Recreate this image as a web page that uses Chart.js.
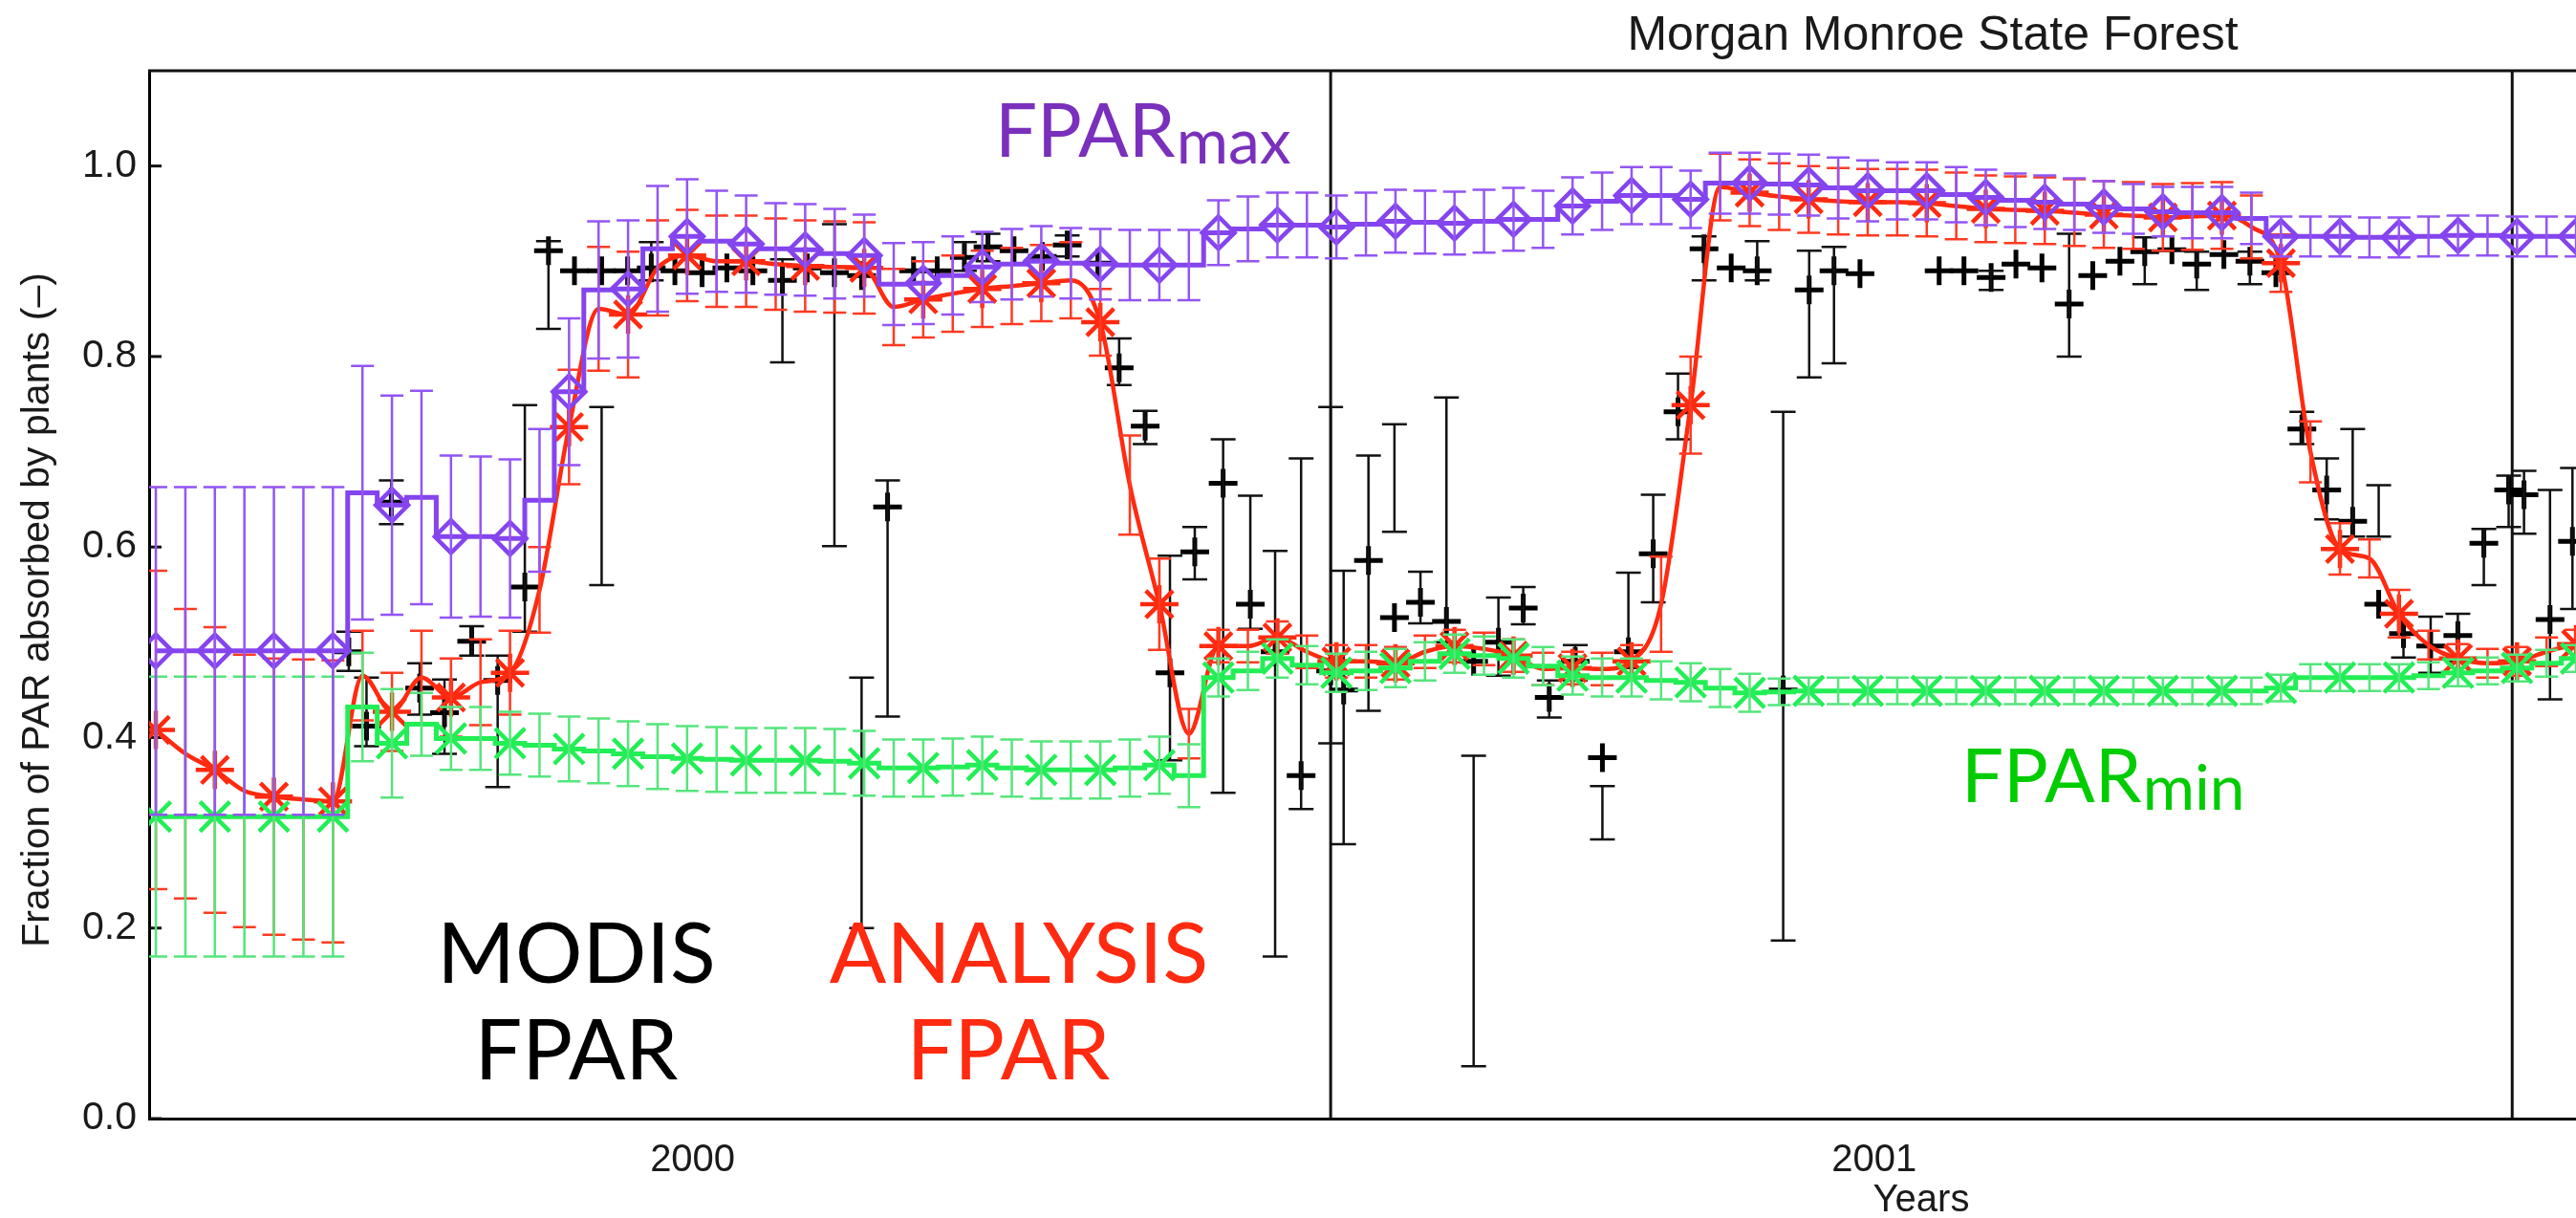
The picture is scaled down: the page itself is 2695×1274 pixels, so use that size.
<!DOCTYPE html>
<html>
<head>
<meta charset="utf-8">
<title>Morgan Monroe State Forest</title>
<script src="https://cdn.jsdelivr.net/npm/chart.js@4.4.1/dist/chart.umd.min.js"></script>
<style>
  html, body { margin: 0; padding: 0; background: #fff; }
  #wrap { width: 2695px; height: 1274px; }
</style>
</head>
<body>
<div id="wrap"><canvas id="fpar-chart" width="2695" height="1274"></canvas></div>
<script>
// model time step: 40 steps per year, first step just after 1 Jan 2000
const GRID_START = 2000.0057;
const GRID_STEP = 0.02498;

const fparMax = [
  0.491, 0.491, 0.491, 0.491, 0.491, 0.491, 0.491, 0.657, 0.644, 0.652,
  0.611, 0.611, 0.609, 0.649, 0.763, 0.870, 0.871, 0.913, 0.926, 0.921,
  0.918, 0.913, 0.912, 0.908, 0.906, 0.876, 0.877, 0.885, 0.894, 0.897,
  0.900, 0.898, 0.897, 0.896, 0.896, 0.896, 0.930, 0.934, 0.938, 0.938,
  0.936, 0.939, 0.942, 0.941, 0.940, 0.942, 0.944, 0.944, 0.958, 0.963,
  0.969, 0.969, 0.965, 0.982, 0.982, 0.981, 0.980, 0.977, 0.974, 0.974,
  0.974, 0.970, 0.967, 0.964, 0.962, 0.960, 0.957, 0.955, 0.952, 0.951,
  0.951, 0.945, 0.926, 0.926, 0.926, 0.925, 0.925, 0.926, 0.927, 0.927,
  0.926, 0.926, 0.926,
];
const fparMaxErr = [
  0.172, 0.172, 0.172, 0.172, 0.172, 0.172, 0.172, 0.133, 0.115, 0.112,
  0.085, 0.084, 0.083, 0.075, 0.077, 0.072, 0.072, 0.066, 0.060, 0.053,
  0.051, 0.048, 0.048, 0.047, 0.043, 0.043, 0.043, 0.041, 0.037, 0.037,
  0.037, 0.037, 0.037, 0.037, 0.037, 0.037, 0.034, 0.034, 0.034, 0.034,
  0.033, 0.033, 0.033, 0.033, 0.033, 0.033, 0.033, 0.030, 0.030, 0.030,
  0.030, 0.030, 0.030, 0.032, 0.032, 0.032, 0.032, 0.032, 0.032, 0.030,
  0.030, 0.029, 0.029, 0.028, 0.028, 0.027, 0.027, 0.026, 0.026, 0.027,
  0.027, 0.027, 0.021, 0.021, 0.021, 0.021, 0.021, 0.021, 0.021, 0.021,
  0.021, 0.021, 0.021,
];

const fparMin = [
  0.317, 0.317, 0.317, 0.317, 0.317, 0.317, 0.317, 0.432, 0.394, 0.414,
  0.399, 0.399, 0.394, 0.392, 0.388, 0.386, 0.383, 0.380, 0.378, 0.377,
  0.376, 0.376, 0.376, 0.375, 0.373, 0.368, 0.368, 0.369, 0.371, 0.368,
  0.366, 0.366, 0.366, 0.368, 0.371, 0.360, 0.463, 0.470, 0.483, 0.476,
  0.468, 0.470, 0.473, 0.480, 0.488, 0.486, 0.483, 0.475, 0.465, 0.463,
  0.463, 0.460, 0.458, 0.452, 0.447, 0.448, 0.449, 0.449, 0.449, 0.449,
  0.449, 0.449, 0.449, 0.449, 0.449, 0.449, 0.449, 0.449, 0.449, 0.449,
  0.449, 0.449, 0.452, 0.463, 0.463, 0.463, 0.463, 0.465, 0.468, 0.470,
  0.473, 0.478, 0.483,
];
const fparMinErr = [
  0.147, 0.147, 0.147, 0.147, 0.147, 0.147, 0.147, 0.057, 0.057, 0.033,
  0.033, 0.033, 0.033, 0.033, 0.034, 0.034, 0.034, 0.034, 0.034, 0.034,
  0.034, 0.034, 0.034, 0.034, 0.034, 0.030, 0.030, 0.030, 0.030, 0.030,
  0.030, 0.030, 0.030, 0.030, 0.030, 0.033, 0.020, 0.020, 0.020, 0.020,
  0.020, 0.020, 0.020, 0.020, 0.020, 0.020, 0.020, 0.020, 0.020, 0.020,
  0.020, 0.020, 0.020, 0.020, 0.020, 0.014, 0.014, 0.014, 0.014, 0.014,
  0.014, 0.014, 0.014, 0.014, 0.014, 0.014, 0.014, 0.014, 0.014, 0.014,
  0.014, 0.014, 0.014, 0.014, 0.014, 0.014, 0.014, 0.014, 0.014, 0.014,
  0.014, 0.014, 0.014,
];

const analysis = [
  0.408, 0.383, 0.366, 0.344, 0.338, 0.335, 0.333, 0.465, 0.427, 0.463,
  0.442, 0.458, 0.468, 0.555, 0.726, 0.850, 0.844, 0.893, 0.906, 0.900,
  0.900, 0.897, 0.895, 0.894, 0.893, 0.852, 0.860, 0.866, 0.871, 0.874,
  0.877, 0.880, 0.836, 0.665, 0.540, 0.404, 0.496, 0.496, 0.505, 0.490,
  0.480, 0.480, 0.478, 0.490, 0.496, 0.493, 0.486, 0.472, 0.473, 0.472,
  0.480, 0.540, 0.749, 0.978, 0.972, 0.968, 0.965, 0.963, 0.962, 0.962,
  0.961, 0.958, 0.955, 0.954, 0.953, 0.951, 0.949, 0.948, 0.946, 0.947,
  0.948, 0.936, 0.898, 0.700, 0.598, 0.588, 0.530, 0.497, 0.483, 0.478,
  0.480, 0.490, 0.498,
];
const analysisErr = [
  0.167, 0.152, 0.150, 0.143, 0.145, 0.147, 0.148, 0.047, 0.041, 0.049,
  0.041, 0.045, 0.044, 0.045, 0.060, 0.065, 0.066, 0.050, 0.048, 0.048,
  0.048, 0.048, 0.048, 0.048, 0.048, 0.040, 0.040, 0.040, 0.040, 0.040,
  0.040, 0.040, 0.035, 0.052, 0.048, 0.026, 0.017, 0.017, 0.017, 0.017,
  0.017, 0.017, 0.017, 0.017, 0.017, 0.017, 0.017, 0.017, 0.017, 0.017,
  0.017, 0.050, 0.051, 0.035, 0.035, 0.035, 0.035, 0.035, 0.035, 0.035,
  0.035, 0.035, 0.035, 0.035, 0.035, 0.035, 0.035, 0.035, 0.035, 0.035,
  0.035, 0.033, 0.030, 0.032, 0.027, 0.020, 0.025, 0.015, 0.015, 0.015,
  0.015, 0.015, 0.015,
];

// MODIS composites: date (decimal year), value, error bar ends (null = no bar)
const modisX = [
  2000.169, 2000.184, 2000.205, 2000.229, 2000.250, 2000.273, 2000.295, 2000.318, 2000.338, 2000.360,
  2000.383, 2000.405, 2000.425, 2000.445, 2000.468, 2000.489, 2000.511, 2000.536, 2000.557, 2000.580,
  2000.603, 2000.625, 2000.647, 2000.667, 2000.690, 2000.710, 2000.732, 2000.756, 2000.777, 2000.803,
  2000.821, 2000.843, 2000.864, 2000.885, 2000.909, 2000.932, 2000.953, 2000.975, 2001.000, 2001.011,
  2001.032, 2001.054, 2001.076, 2001.098, 2001.121, 2001.142, 2001.163, 2001.185, 2001.207, 2001.230,
  2001.252, 2001.273, 2001.294, 2001.316, 2001.339, 2001.361, 2001.383, 2001.405, 2001.426, 2001.448,
  2001.515, 2001.536, 2001.559, 2001.580, 2001.602, 2001.625, 2001.645, 2001.668, 2001.689, 2001.712,
  2001.733, 2001.756, 2001.778, 2001.800, 2001.822, 2001.843, 2001.865, 2001.887, 2001.908, 2001.931,
  2001.954, 2001.976, 2001.997, 2002.010, 2002.032, 2002.051,
];
const modisY = [
  0.490, 0.412, 0.647, 0.452, 0.426, 0.501, 0.460, 0.558, 0.911, 0.890,
  0.890, 0.890, 0.893, 0.890, 0.888, 0.893, 0.890, 0.880, 0.893, 0.888,
  0.885, 0.642, 0.890, 0.890, 0.904, 0.915, 0.911, 0.905, 0.917, 0.898,
  0.788, 0.727, 0.468, 0.595, 0.667, 0.540, 0.490, 0.360, 0.470, 0.450,
  0.586, 0.526, 0.542, 0.522, 0.480, 0.500, 0.536, 0.442, 0.480, 0.379,
  0.490, 0.593, 0.742, 0.913, 0.893, 0.890, 0.450, 0.870, 0.890, 0.887,
  0.890, 0.890, 0.883, 0.897, 0.893, 0.855, 0.885, 0.900, 0.910, 0.912,
  0.897, 0.907, 0.900, 0.888, 0.724, 0.660, 0.627, 0.540, 0.509, 0.496,
  0.507, 0.604, 0.660, 0.655, 0.524, 0.606,
];
const modisLo = [
  0.470, 0.391, 0.624, 0.424, 0.383, 0.486, 0.348, 0.511, 0.829, null,
  0.560, null, 0.880, null, null, null, null, 0.794, null, 0.601,
  0.200, 0.422, null, null, 0.890, 0.900, null, null, 0.905, null,
  0.770, 0.708, 0.376, 0.566, 0.342, 0.514, 0.170, 0.325, 0.394, 0.288,
  0.428, 0.616, 0.520, 0.500, 0.055, 0.465, 0.519, 0.421, 0.460, 0.293,
  0.473, 0.542, 0.713, 0.880, null, 0.880, 0.187, 0.778, 0.793, null,
  null, null, 0.870, null, null, 0.800, null, null, 0.876, null,
  0.870, null, 0.876, null, 0.708, 0.629, 0.611, 0.611, 0.484, 0.468,
  0.480, 0.560, 0.621, 0.614, 0.440, 0.535,
];
const modisHi = [
  0.511, 0.463, 0.670, 0.478, 0.461, 0.517, 0.486, 0.749, 0.921, null,
  0.747, null, 0.920, null, null, null, null, 0.902, null, 0.939,
  0.463, 0.670, null, null, 0.920, 0.929, null, null, 0.927, null,
  0.819, 0.743, 0.591, 0.621, 0.713, 0.654, 0.596, 0.693, 0.747, 0.575,
  0.696, 0.729, 0.574, 0.757, 0.381, 0.547, 0.558, 0.460, 0.497, 0.349,
  0.573, 0.655, 0.782, 0.926, null, 0.921, 0.742, 0.911, 0.915, null,
  null, null, 0.890, null, null, 0.929, null, null, 0.925, null,
  0.910, null, 0.910, null, 0.742, 0.693, 0.724, 0.665, 0.530, 0.527,
  0.530, 0.619, 0.675, 0.680, 0.660, 0.683,
];

const yearLines = [2001, 2002];
const yearLabelX = [2000.46, 2001.46];
const yTicks = [0, 0.2, 0.4, 0.6, 0.8, 1.0];

const X_MIN = 2000;
const X_MAX = 2002.054;
const AXIS_FONT = "'Liberation Sans', Arial, Helvetica, sans-serif";
const NOTE_FONT = "Lato, 'Open Sans', sans-serif";

const gridX = fparMax.map((_, i) => GRID_START + i * GRID_STEP);
const toPoints = (xs, ys) => ys.map((y, i) => ({ x: xs[i], y }));
const everyOther = (n, r) => Array.from({ length: n }, (_, i) => (i % 2 === 0 ? r : 0));
const minus = (vals, err) => vals.map((v, i) => v - err[i]);
const plus = (vals, err) => vals.map((v, i) => v + err[i]);

// vertical error bars with caps, drawn right after their own dataset
const errorBars = {
  id: "errorBars",
  afterDatasetDraw(chart, args) {
    const ds = chart.data.datasets[args.index];
    if (!ds.errLo) return;
    const { ctx, chartArea, scales } = chart;
    ctx.save();
    ctx.beginPath();
    ctx.rect(chartArea.left, chartArea.top, chartArea.width, chartArea.height);
    ctx.clip();
    ctx.strokeStyle = ds.errColor;
    ctx.lineWidth = ds.errWidth;
    args.meta.data.forEach((pt, i) => {
      const lo = ds.errLo[i];
      const hi = ds.errHi[i];
      if (lo == null || hi == null) return;
      const y1 = scales.y.getPixelForValue(lo);
      const y2 = scales.y.getPixelForValue(hi);
      const w = ds.capHalf;
      ctx.beginPath();
      ctx.moveTo(pt.x, y1);
      ctx.lineTo(pt.x, y2);
      ctx.moveTo(pt.x - w, y1);
      ctx.lineTo(pt.x + w, y1);
      ctx.moveTo(pt.x - w, y2);
      ctx.lineTo(pt.x + w, y2);
      ctx.stroke();
    });
    ctx.restore();
  },
};

// frame top line, year separators and inward y ticks
const frame = {
  id: "frame",
  beforeDatasetsDraw(chart) {
    const { ctx, chartArea, scales } = chart;
    ctx.save();
    ctx.strokeStyle = "#111";
    ctx.lineWidth = 3;
    yearLines.forEach((yr) => {
      const x = scales.x.getPixelForValue(yr);
      ctx.beginPath();
      ctx.moveTo(x, chartArea.top);
      ctx.lineTo(x, chartArea.bottom);
      ctx.stroke();
    });
    ctx.beginPath();
    ctx.moveTo(chartArea.left - 1, chartArea.top);
    ctx.lineTo(chartArea.right, chartArea.top);
    ctx.stroke();
    yTicks.forEach((v) => {
      const y = scales.y.getPixelForValue(v);
      ctx.beginPath();
      ctx.moveTo(chartArea.left, y);
      ctx.lineTo(chartArea.left + 13, y);
      ctx.stroke();
    });
    ctx.restore();
  },
};

function drawSub(ctx, x, y, main, sub, color, size, subSize, drop) {
  ctx.fillStyle = color;
  ctx.textAlign = "left";
  ctx.font = `${size}px ${NOTE_FONT}`;
  ctx.fillText(main, x, y);
  const w = ctx.measureText(main).width;
  ctx.font = `${subSize}px ${NOTE_FONT}`;
  ctx.fillText(sub, x + w + 1, y + drop);
}

const labels = {
  id: "labels",
  afterDraw(chart) {
    const { ctx } = chart;
    ctx.save();
    ctx.textBaseline = "alphabetic";

    ctx.fillStyle = "#1a1a1a";
    ctx.textAlign = "center";
    ctx.font = `50px ${AXIS_FONT}`;
    ctx.fillText("Morgan Monroe State Forest", 2022, 52);
    ctx.font = `40px ${AXIS_FONT}`;
    ctx.fillText("Years", 2010, 1267);

    ctx.save();
    ctx.translate(51, 638);
    ctx.rotate(-Math.PI / 2);
    ctx.font = `41px ${AXIS_FONT}`;
    ctx.fillText("Fraction of PAR absorbed by plants (\u2013)", 0, 0);
    ctx.restore();

    ctx.font = `88px ${NOTE_FONT}`;
    ctx.fillStyle = "#000";
    ctx.fillText("MODIS", 603, 1028);
    ctx.fillText("FPAR", 603, 1129);
    ctx.fillStyle = "#ff2a10";
    ctx.fillText("ANALYSIS", 1066, 1028);
    ctx.fillText("FPAR", 1055, 1129);

    drawSub(ctx, 1041, 164, "FPAR", "max", "#7a30bc", 78, 66, 7);
    drawSub(ctx, 2052, 839, "FPAR", "min", "#00cc00", 78, 66, 8);
    ctx.restore();
  },
};

const PURPLE = "#8444ee";
const GREEN = "#22ee55";
const RED = "#ff2a10";
const N = fparMax.length;

const datasets = [
  {
    label: "FPARmax",
    data: toPoints(gridX, fparMax),
    borderColor: PURPLE,
    backgroundColor: "rgba(0,0,0,0)",
    borderWidth: 5,
    stepped: "middle",
    pointStyle: "rectRot",
    pointRadius: everyOther(N, 17),
    pointBorderWidth: 4.5,
    pointBorderColor: PURPLE,
    pointBackgroundColor: "rgba(0,0,0,0)",
    errLo: minus(fparMax, fparMaxErr),
    errHi: plus(fparMax, fparMaxErr),
    errColor: "#9355f3",
    errWidth: 2.5,
    capHalf: 12,
  },
  {
    label: "FPARmin",
    data: toPoints(gridX, fparMin),
    borderColor: GREEN,
    backgroundColor: "rgba(0,0,0,0)",
    borderWidth: 5,
    stepped: "middle",
    pointStyle: "crossRot",
    pointRadius: everyOther(N, 22),
    pointBorderWidth: 4.5,
    pointBorderColor: GREEN,
    errLo: minus(fparMin, fparMinErr),
    errHi: plus(fparMin, fparMinErr),
    errColor: "#55e57c",
    errWidth: 2.5,
    capHalf: 12,
  },
  {
    label: "ANALYSIS FPAR",
    data: toPoints(gridX, analysis),
    borderColor: RED,
    backgroundColor: "rgba(0,0,0,0)",
    borderWidth: 4.5,
    cubicInterpolationMode: "monotone",
    pointStyle: "star",
    pointRadius: everyOther(N, 20),
    pointBorderWidth: 4.5,
    pointBorderColor: RED,
    errLo: minus(analysis, analysisErr),
    errHi: plus(analysis, analysisErr),
    errColor: "#ff3a22",
    errWidth: 2.5,
    capHalf: 12,
  },
  {
    label: "MODIS FPAR",
    data: toPoints(modisX, modisY),
    showLine: false,
    borderColor: "#000",
    pointStyle: "cross",
    pointRadius: 15,
    pointBorderWidth: 5,
    pointBorderColor: "#000",
    errLo: modisLo,
    errHi: modisHi,
    errColor: "#111",
    errWidth: 2.5,
    capHalf: 13,
  },
];

new Chart(document.getElementById("fpar-chart"), {
  type: "line",
  data: { datasets },
  plugins: [frame, errorBars, labels],
  options: {
    responsive: false,
    animation: false,
    devicePixelRatio: 1,
    layout: { autoPadding: false, padding: { top: 74, right: 0, bottom: 0, left: 0 } },
    plugins: { legend: { display: false }, tooltip: { enabled: false } },
    scales: {
      x: {
        type: "linear",
        min: X_MIN,
        max: X_MAX,
        afterFit: (s) => { s.height = 104; },
        afterBuildTicks: (s) => { s.ticks = yearLabelX.map((v) => ({ value: v })); },
        grid: { display: false, drawTicks: false },
        border: { display: true, color: "#000", width: 3 },
        ticks: {
          color: "#1a1a1a",
          font: { family: AXIS_FONT, size: 40 },
          padding: 20,
          maxRotation: 0,
          autoSkip: false,
          callback: (v) => String(Math.floor(v)),
        },
      },
      y: {
        min: 0,
        max: 1.1,
        afterFit: (s) => { s.width = 156; },
        afterBuildTicks: (s) => { s.ticks = yTicks.map((v) => ({ value: v })); },
        grid: { display: false, drawTicks: false },
        border: { display: true, color: "#000", width: 3 },
        ticks: {
          color: "#1a1a1a",
          font: { family: AXIS_FONT, size: 41 },
          padding: 13,
          callback: (v) => v.toFixed(1),
        },
      },
    },
  },
});
</script>
</body>
</html>
